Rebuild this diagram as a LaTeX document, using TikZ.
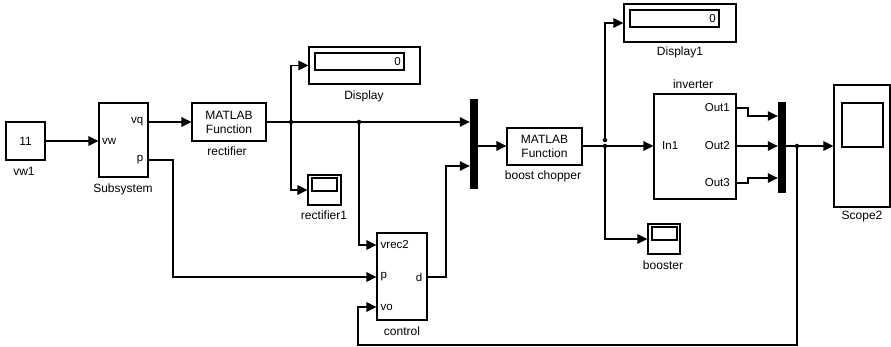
\documentclass[tikz,border=0pt]{standalone}
\usepackage{fontspec}
\setmainfont{Liberation Sans}
\usetikzlibrary{arrows.meta}

\begin{document}
\begin{tikzpicture}[x=1pt,y=-1pt,
  blk/.style={draw,line width=1.1pt,inner sep=0pt,align=center,font=\fontsize{12}{14}\selectfont},
  bar/.style={draw,fill=black,inner sep=0pt,minimum width=7pt},
  lbl/.style={inner sep=0pt,font=\fontsize{12}{14}\selectfont},
  prt/.style={inner sep=0pt,font=\fontsize{11.5}{14}\selectfont},
  wire/.style={line width=1.1pt},
  sig/.style={wire,-{Triangle[length=10pt,width=9.5pt]}},
  dot/.style={circle,fill=black,inner sep=0pt,minimum size=4.5pt}]

\useasboundingbox (0,0) rectangle (891,347);

\node[blk,minimum width=39pt,minimum height=38pt] (vwone) at (25.5,141) {11};
\node[lbl] (vwone-l) at (24,171) {vw1};

\node[blk,minimum width=49pt,minimum height=74pt] (subsys) at (123.5,140) {};
\node[lbl] (subsys-l) at (123,189) {Subsystem};
\coordinate (subsys-vw) at (subsys.west |- 0,141);
\coordinate (subsys-vq) at (subsys.east |- 0,122);
\coordinate (subsys-p) at (subsys.east |- 0,160);
\node[prt,anchor=west] (subsys-vw-t) at (102,141) {vw};
\node[prt,anchor=east] (subsys-vq-t) at (143.5,122) {vq};
\node[prt,anchor=east] (subsys-p-t) at (143.5,160) {p};

\node[blk,minimum width=74pt,minimum height=38pt] (rectifier) at (229,122) {MATLAB\\Function};
\node[lbl] (rectifier-l) at (227,151.5) {rectifier};

\node[blk,minimum width=111pt,minimum height=37pt] (display) at (364.5,65.5) {};
\draw[wire] (315,53) rectangle (404,70);
\node[prt,anchor=east] (display-v) at (401,61.5) {0};
\node[lbl] (display-l) at (364,96) {Display};

\node[blk,minimum width=33pt,minimum height=30pt] (rectone) at (324.5,190) {};
\draw[wire] (312,178) rectangle (337,191);
\node[lbl] (rectone-l) at (324,215) {rectifier1};

\node[bar,minimum height=89pt] (muxa) at (473.5,143.5) {};
\coordinate (muxa-ina) at (muxa.west |- 0,122);
\coordinate (muxa-inb) at (muxa.west |- 0,166);
\coordinate (muxa-out) at (muxa.east |- 0,146);

\node[blk,minimum width=75pt,minimum height=37pt] (boost) at (544.5,146.5) {MATLAB\\Function};
\node[lbl] (boost-l) at (543,176) {boost chopper};

\node[blk,minimum width=50pt,minimum height=87pt] (control) at (402,276.5) {};
\node[lbl] (control-l) at (402,331) {control};
\coordinate (control-vrec) at (control.west |- 0,245);
\coordinate (control-p) at (control.west |- 0,277);
\coordinate (control-vo) at (control.west |- 0,307);
\coordinate (control-d) at (control.east |- 0,277);
\node[prt,anchor=west] (control-vrec-t) at (380.5,245) {vrec2};
\node[prt,anchor=west] (control-p-t) at (380.5,277) {p};
\node[prt,anchor=west] (control-vo-t) at (380.5,307) {vo};
\node[prt,anchor=east] (control-d-t) at (422.5,277) {d};

\node[blk,minimum width=112pt,minimum height=38pt] (displayone) at (680,23) {};
\draw[wire] (630,10) rectangle (719,27);
\node[prt,anchor=east] (displayone-v) at (716,18.5) {0};
\node[lbl] (displayone-l) at (680,52) {Display1};

\node[blk,minimum width=82pt,minimum height=105pt] (inverter) at (695,146.5) {};
\node[lbl] (inverter-l) at (693,84) {inverter};
\coordinate (inverter-in) at (inverter.west |- 0,146);
\coordinate (inverter-outa) at (inverter.east |- 0,108);
\coordinate (inverter-outb) at (inverter.east |- 0,146);
\coordinate (inverter-outc) at (inverter.east |- 0,183);
\node[prt,anchor=west] (inverter-in-t) at (662,146) {In1};
\node[prt,anchor=east] (inverter-outa-t) at (730,108) {Out1};
\node[prt,anchor=east] (inverter-outb-t) at (730,146) {Out2};
\node[prt,anchor=east] (inverter-outc-t) at (730,183) {Out3};

\node[blk,minimum width=32pt,minimum height=30pt] (booster) at (664,239) {};
\draw[wire] (652,227) rectangle (677,240);
\node[lbl] (booster-l) at (663,265) {booster};

\node[bar,minimum height=90pt] (muxb) at (781.5,147) {};
\coordinate (muxb-ina) at (muxb.west |- 0,116);
\coordinate (muxb-inb) at (muxb.west |- 0,146);
\coordinate (muxb-inc) at (muxb.west |- 0,178);
\coordinate (muxb-out) at (muxb.east |- 0,146);

\node[blk,minimum width=56pt,minimum height=122pt] (scopetwo) at (862,146) {};
\draw[wire] (842,103) rectangle (883,147);
\node[lbl] (scopetwo-l) at (862,217) {Scope2};
\coordinate (scopetwo-in) at (scopetwo.west |- 0,146);

\coordinate (ja) at (291,122);
\coordinate (jb) at (359,122);
\coordinate (jc) at (605,146);
\coordinate (jcc) at (605,140);
\coordinate (jd) at (797,146);
\coordinate (pbend) at (173,277);
\coordinate (dbend) at (446,166);
\coordinate (outabend) at (748,116);
\coordinate (outcbend) at (748,178);
\coordinate (loopbend) at (358,345);

\draw[sig] (vwone.east) -- (subsys-vw);
\draw[sig] (subsys-vq) -- (rectifier.west);
\draw[sig] (rectifier.east) -- (muxa-ina);
\draw[sig] (ja) |- (display.west);
\draw[sig] (ja) |- (rectone.west);
\draw[sig] (jb) |- (control-vrec);
\draw[sig] (subsys-p) -| (pbend) -- (control-p);
\draw[sig] (control-d) -| (dbend) -- (muxa-inb);
\draw[sig] (muxa-out) -- (muxa-out -| boost.west);
\draw[sig] (boost.east |- inverter-in) -- (inverter-in);
\draw[sig] (jcc) |- (displayone.west);
\draw[sig] (jc) |- (booster.west);
\draw[sig] (inverter-outa) -| (outabend) -- (muxb-ina);
\draw[sig] (inverter-outb) -- (muxb-inb);
\draw[sig] (inverter-outc) -| (outcbend) -- (muxb-inc);
\draw[sig] (muxb-out) -- (scopetwo-in);
\draw[sig] (jd) |- (loopbend) |- (control-vo);

\node[dot] (ja-d) at (ja) {};
\node[dot] (jb-d) at (jb) {};
\node[dot] (jc-d) at (jc) {};
\node[dot] (jcc-d) at (jcc) {};
\node[dot] (jd-d) at (jd) {};

\end{tikzpicture}
\end{document}
